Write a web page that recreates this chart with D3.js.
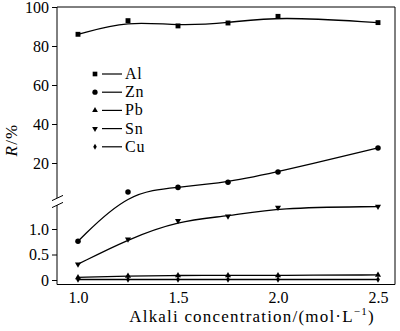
<!DOCTYPE html>
<html>
<head>
<meta charset="utf-8">
<script src="https://cdn.jsdelivr.net/npm/d3@7"></script>
<style>
  html, body { margin: 0; padding: 0; background: #fff; }
  svg { display: block; }
</style>
</head>
<body>
<svg id="chart" width="400" height="331"></svg>
<script>
// Alkali concentration (mol/L)
const concentration = [1.0, 1.25, 1.5, 1.75, 2.0, 2.5];
// Leaching rate R (%) for each metal
const al = [86, 93, 90.3, 91.8, 95.2, 92];
const zn = [0.76, 5.1, 7.5, 10.1, 15.4, 27.7];
const pb = [0.05, 0.08, 0.09, 0.09, 0.09, 0.10];
const sn = [0.31, 0.80, 1.16, 1.25, 1.42, 1.44];
const cu = [0.01, 0.01, 0.01, 0.01, 0.01, 0.01];

const xTicks = [1.0, 1.5, 2.0, 2.5];
const yTicksUpper = [20, 40, 60, 80, 100];
const yTicksLower = [0, 0.5, 1.0];

const series = [
  { name: "Al", values: al, symbol: d3.symbolSquare, size: 24 },
  { name: "Zn", values: zn, symbol: d3.symbolCircle, size: 24 },
  { name: "Pb", values: pb, symbol: d3.symbolTriangle, size: 16 },
  { name: "Sn", values: sn, symbol: d3.symbolTriangle, size: 16, flip: true },
  { name: "Cu", values: cu, symbol: d3.symbolDiamond, size: 12 }
];

const FONT = "Liberation Serif";
const svg = d3.select("#chart");
const plotLeft = 57, plotRight = 395, plotTop = 7, plotBottom = 284.5;
const breakTop = 198, breakBottom = 205;

const x = d3.scaleLinear().domain([0.895, 2.585]).range([plotLeft, plotRight]);
// Broken value axis: a linear scale above the break and another below it
const yUpper = d3.scaleLinear().domain([20, 100]).range([163, plotTop]);
const yLower = d3.scaleLinear().domain([0, 1.0]).range([280, 229]);
const y = v => (v >= 1.8 ? yUpper(v) : yLower(v));

// Frame (top and right edges)
svg.append("path")
  .attr("d", `M${plotLeft},${plotTop}H${plotRight}V${plotBottom}`)
  .attr("fill", "none").attr("stroke", "#000").attr("stroke-width", 1);

// Bottom axis
const gx = svg.append("g").attr("transform", `translate(0,${plotBottom})`)
  .call(d3.axisBottom(x).tickValues(xTicks).tickFormat(d3.format(".1f")).tickSize(0).tickPadding(7));
gx.select(".domain").attr("stroke", "#000").attr("d", `M${plotLeft},0H${plotRight}`);

// Left axis, upper part
const gyU = svg.append("g").attr("transform", `translate(${plotLeft},0)`)
  .call(d3.axisLeft(yUpper).tickValues(yTicksUpper).tickSize(5).tickPadding(3));
gyU.select(".domain").attr("d", `M0,${plotTop}V${breakTop}`).attr("stroke", "#000");
// Left axis, lower part
const gyL = svg.append("g").attr("transform", `translate(${plotLeft},0)`)
  .call(d3.axisLeft(yLower).tickValues(yTicksLower)
    .tickFormat(d => d === 0 ? "0" : d3.format(".1f")(d)).tickSize(5).tickPadding(3));
gyL.select(".domain").attr("d", `M0,${breakBottom}V${plotBottom}`).attr("stroke", "#000");
svg.selectAll(".tick text").attr("font-size", 16).attr("fill", "#000");
svg.selectAll(".tick line").attr("stroke", "#000");

// Break marks
[breakTop, breakBottom].forEach(by => {
  svg.append("line")
    .attr("x1", plotLeft - 5).attr("y1", by + 2.6)
    .attr("x2", plotLeft + 6).attr("y2", by - 2.6)
    .attr("stroke", "#000").attr("stroke-width", 1);
});

// Axis titles
svg.append("text")
  .attr("x", 252).attr("y", 322).attr("text-anchor", "middle")
  .attr("font-size", 17).attr("letter-spacing", 1.2).attr("fill", "#000")
  .call(t => {
    t.append("tspan").text("Alkali concentration/(mol\u00B7L");
    t.append("tspan").attr("dy", -7).attr("font-size", 11).text("\u22121");
    t.append("tspan").attr("dy", 7).text(")");
  });

svg.append("text")
  .attr("transform", "translate(17,140) rotate(-90)")
  .attr("text-anchor", "middle").attr("font-size", 17).attr("letter-spacing", 1.2)
  .attr("fill", "#000")
  .call(t => {
    t.append("tspan").attr("font-style", "italic").text("R");
    t.append("tspan").text("/%");
  });

// Curves and markers
const line = d3.line()
  .x((d, i) => x(concentration[i]))
  .y(d => y(d))
  .curve(d3.curveBasis);

const plot = svg.append("g");
series.forEach(s => {
  plot.append("path")
    .attr("d", line(s.values))
    .attr("fill", "none").attr("stroke", "#000").attr("stroke-width", 1.3);
  plot.selectAll(null).data(s.values).enter().append("path")
    .attr("d", d3.symbol().type(s.symbol).size(s.size))
    .attr("transform", (d, i) => `translate(${x(concentration[i])},${y(d)})${s.flip ? " rotate(180)" : ""}`)
    .attr("fill", "#000");
});

// Legend
const legend = svg.append("g");
series.forEach((s, i) => {
  const ly = 74 + i * 18.2;
  legend.append("path")
    .attr("d", d3.symbol().type(s.symbol).size(s.size * 0.9))
    .attr("transform", `translate(95,${ly})${s.flip ? " rotate(180)" : ""}`)
    .attr("fill", "#000");
  legend.append("line")
    .attr("x1", 102).attr("x2", 122).attr("y1", ly).attr("y2", ly)
    .attr("stroke", "#000").attr("stroke-width", 1.2);
  legend.append("text")
    .attr("x", 125).attr("y", ly + 5).attr("font-size", 16).attr("letter-spacing", 0.8)
    .attr("fill", "#000")
    .text(s.name);
});

// Serif face on every label
svg.selectAll("text").style("font-family", FONT);
</script>
</body>
</html>
